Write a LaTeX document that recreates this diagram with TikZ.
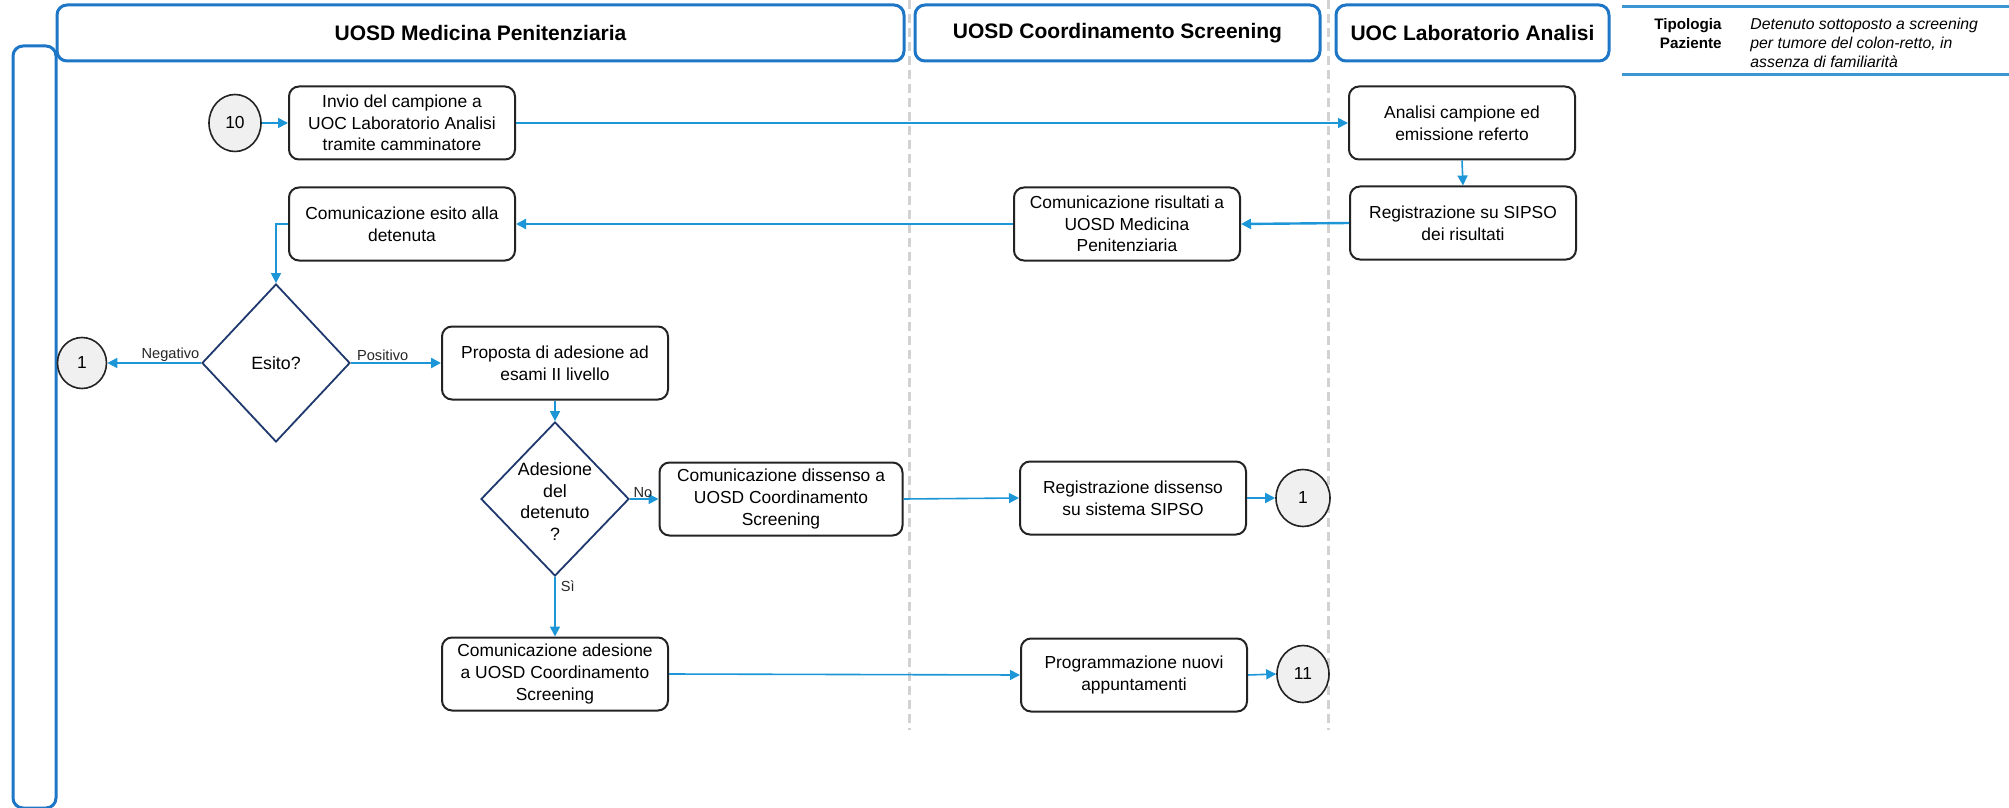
\documentclass[tikz,border=0pt]{standalone}
\usepackage{fontspec}
\setmainfont{Liberation Sans}
\usetikzlibrary{shapes.geometric,arrows.meta}

\definecolor{headblue}{RGB}{30,118,198}
\definecolor{legendblue}{RGB}{60,150,210}
\definecolor{lanegray}{RGB}{210,210,210}
\definecolor{connblue}{RGB}{28,150,215}
\definecolor{decnavy}{RGB}{31,56,110}
\definecolor{boxline}{RGB}{35,35,35}
\definecolor{refill}{RGB}{240,240,240}

\begin{document}
\begin{tikzpicture}[x=0.5pt,y=-0.5pt,
  header/.style={draw=headblue, line width=1.5pt, rounded corners=5pt, fill=white,
    minimum height=28pt, inner sep=0pt, font=\fontsize{10.5}{12}\selectfont\bfseries},
  stepbox/.style={draw=boxline, line width=1pt, rounded corners=5pt, fill=white,
    minimum width=113pt, minimum height=36.5pt, inner sep=1pt, align=center,
    font=\fontsize{8.7}{10.8}\selectfont},
  decision/.style={draw=decnavy, line width=0.9pt, shape=diamond, fill=white,
    inner sep=0pt, font=\fontsize{8.9}{10.8}\selectfont},
  refnode/.style={draw=boxline, line width=0.8pt, shape=ellipse, fill=refill,
    inner sep=0pt, font=\fontsize{8.7}{10}\selectfont},
  conn/.style={draw=connblue, line width=0.8pt, -{Triangle[length=5pt,width=5pt]}},
  thick conn/.style={conn, line width=1.2pt},
  flowlabel/.style={font=\fontsize{7.3}{8}\selectfont, inner sep=0.5pt, text=black!85}
]
\useasboundingbox (0,0) rectangle (2009,808);

% swimlane separators
\draw[lanegray, line width=1.5pt, dash pattern=on 4.5pt off 2.5pt] (909,0) -- (909,730);
\draw[lanegray, line width=1.5pt, dash pattern=on 4.5pt off 2.5pt] (1328,0) -- (1328,730);

% pool frame
\draw[headblue, line width=1.5pt, rounded corners=5pt] (13,46) rectangle (56,808);

% lane headers
\node[header, minimum width=423.5pt] (hmed) at (480.5,33) {UOSD Medicina Penitenziaria};
\node[header, minimum width=202.5pt] (hcoord) at (1117.5,33) {UOSD Coordinamento Screening};
\node[header, minimum width=136.5pt] (hlab) at (1472.5,33) {UOC Laboratorio Analisi};

% patient type legend
\draw[legendblue, line width=1.5pt] (1622,7) -- (2009,7);
\draw[legendblue, line width=1.5pt] (1622,75) -- (2009,75);
\node[anchor=north east, align=right, inner sep=0pt,
  font=\fontsize{7.6}{9.5}\selectfont\bfseries] (ltype) at (1722,18) {Tipologia\\Paziente};
\node[anchor=north west, align=left, inner sep=0pt,
  font=\fontsize{7.9}{9.5}\selectfont\itshape] (ldesc) at (1750,18)
  {Detenuto sottoposto a screening\\per tumore del colon-retto, in\\assenza di familiarità};

% process steps
\node[refnode, minimum width=26pt, minimum height=28.5pt] (c10) at (235,123) {10};
\node[stepbox] (invio) at (402,123) {Invio del campione a\\UOC Laboratorio Analisi\\tramite camminatore};
\node[stepbox] (analisi) at (1462,123) {Analisi campione ed\\emissione referto};
\node[stepbox] (regris) at (1463,223) {Registrazione su SIPSO\\dei risultati};
\node[stepbox] (comris) at (1127,224) {Comunicazione risultati a\\UOSD Medicina\\Penitenziaria};
\node[stepbox] (esito) at (402,224) {Comunicazione esito alla\\detenuta};

\node[decision, minimum width=74pt, minimum height=79pt] (dec1) at (276,363)
  {\makebox[0pt]{\smash{\raisebox{-3pt}{Esito?}}}};
\node[refnode, minimum width=24.5pt, minimum height=25.5pt] (c1a) at (82,363) {1};
\node[stepbox] (proposta) at (555,363) {Proposta di adesione ad\\esami II livello};

\node[decision, minimum width=74pt, minimum height=77pt] (dec2) at (555,499)
  {\makebox[0pt]{\smash{\raisebox{-4.5pt}{\begin{tabular}{@{}c@{}}Adesione\\del\\detenuto\\?\end{tabular}}}}};
\node[stepbox, minimum width=121.5pt] (dissenso) at (781,499) {Comunicazione dissenso a\\UOSD Coordinamento\\Screening};
\node[stepbox] (regdiss) at (1133,498) {Registrazione dissenso\\su sistema SIPSO};
\node[refnode, minimum width=27pt, minimum height=28.5pt] (c1b) at (1303,498) {1};

\node[stepbox] (adesione) at (555,674) {Comunicazione adesione\\a UOSD Coordinamento\\Screening};
\node[stepbox] (prog) at (1134,675) {Programmazione nuovi\\appuntamenti};
\node[refnode, minimum width=26pt, minimum height=28.5pt] (c11) at (1303,674) {11};

% connectors
\draw[conn] (c10) -- (invio);
\draw[conn] (invio.east) -- (analisi.west);
\draw[conn] (analisi.south) -- (regris.north);
\draw[thick conn] (regris.west) -- (comris.east);
\draw[thick conn] (comris.west) -- (esito.east);
\draw[conn] (esito.west) -| (dec1.north);
\draw[conn] (dec1.west) -- (c1a.east)
  node[flowlabel, pos=0, anchor=south east] {Negativo};
\draw[thick conn] (dec1.east) -- (proposta.west)
  node[flowlabel, pos=0, anchor=south west, xshift=2pt] {Positivo};
\draw[conn] (proposta.south) -- (dec2.north);
\draw[conn] (dec2.east) -- (dissenso.west)
  node[flowlabel, pos=0, anchor=south west, xshift=1pt] {No};
\draw[conn] (dissenso.east) -- (regdiss.west);
\draw[conn] (regdiss.east) -- (c1b.west);
\draw[conn] (dec2.south) -- (adesione.north)
  node[flowlabel, pos=0, anchor=north west, xshift=2pt, yshift=-1pt] {Sì};
\draw[conn] (adesione.east) -- (prog.west);
\draw[conn] (prog.east) -- (c11.west);
\end{tikzpicture}
\end{document}
